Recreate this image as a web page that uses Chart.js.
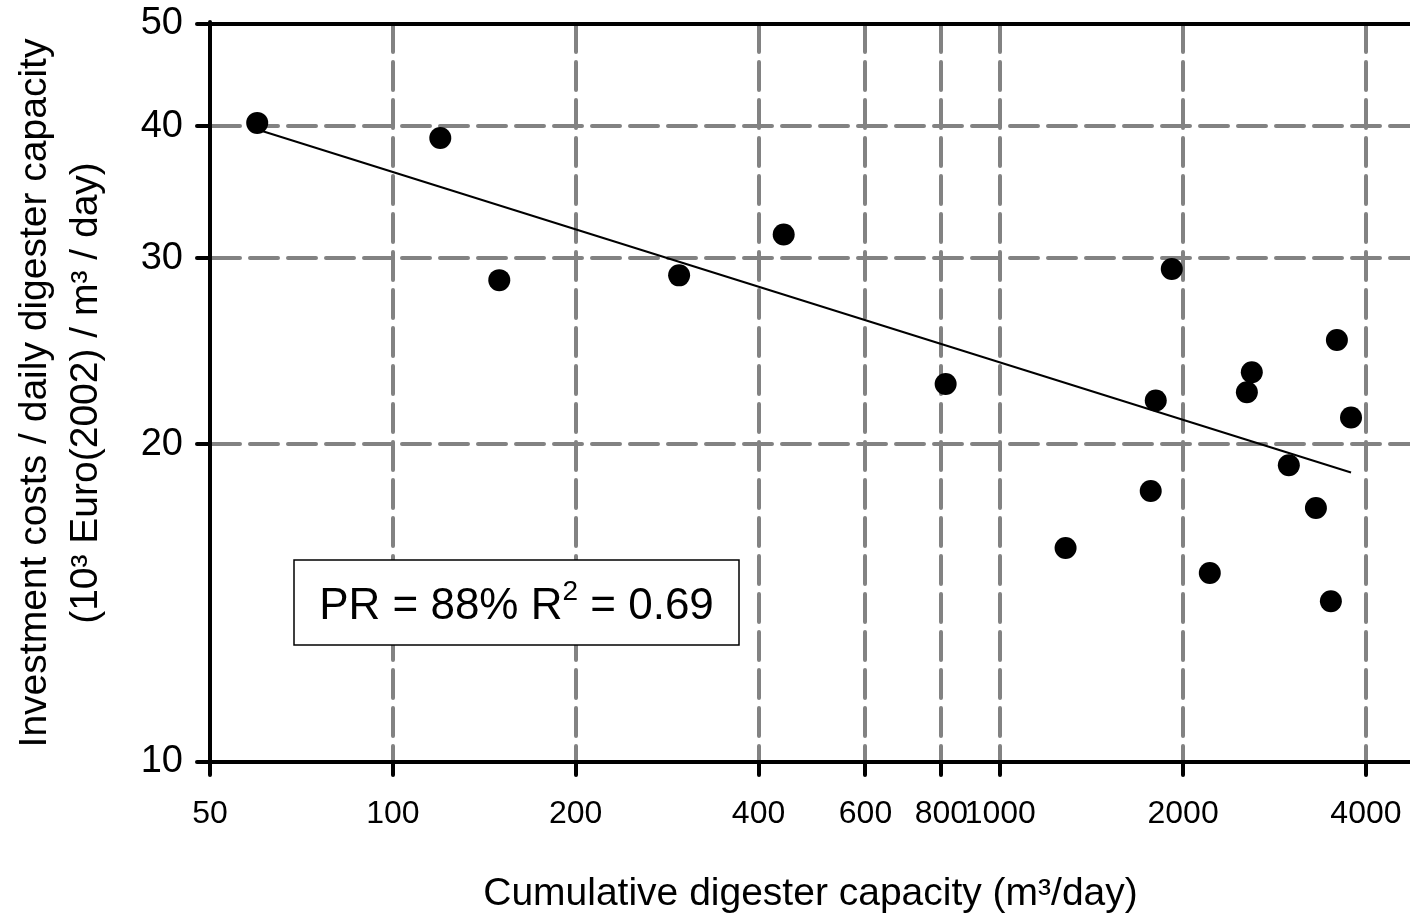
<!DOCTYPE html>
<html>
<head>
<meta charset="utf-8">
<script src="https://cdn.jsdelivr.net/npm/chart.js@4/dist/chart.umd.min.js"></script>
<style>
html,body{margin:0;padding:0;background:#fff;overflow:hidden;}
#wrap{width:1410px;height:920px;overflow:hidden;}
</style>
</head>
<body>
<div id="wrap"><canvas id="c" width="1422" height="920"></canvas></div>
<script>
// ---- data ----
const capacity = [59.8, 119.7, 149.7, 296, 440, 813, 1281, 1769, 1803, 1916, 2213, 2547, 2595, 2986, 3309, 3502, 3583, 3780];
const costs    = [40.3, 39.0, 28.6, 28.9, 31.6, 22.8, 15.95, 18.06, 22.0, 29.3, 15.1, 22.4, 23.4, 19.1, 17.4, 14.2, 25.1, 21.2];
const trendX   = [60.0, 3780];
const trendY   = [39.7, 18.8];
const xTicks   = [50, 100, 200, 400, 600, 800, 1000, 2000, 4000];
const yTicks   = [10, 20, 30, 40, 50];
const xTitle   = 'Cumulative digester capacity (m\u00B3/day)';
const yTitle   = ['Investment costs / daily digester capacity', '(10\u00B3 Euro(2002) / m\u00B3 / day)'];
const boxText  = ['PR = 88% R', '2', ' = 0.69'];

const FONT = "'Liberation Sans', Arial, sans-serif";
const GRID = '#828282';

const points = capacity.map((x, i) => ({x: x, y: costs[i]}));
const trend = trendX.map((x, i) => ({x: x, y: trendY[i]}));

const framePlugin = {
  id: 'frame',
  beforeDraw(chart) { chart.ctx.lineCap = 'round'; },
  afterDraw(chart) {
    const ctx = chart.ctx, a = chart.chartArea;
    ctx.save();
    // top border
    ctx.lineCap = 'butt';
    ctx.strokeStyle = '#000';
    ctx.lineWidth = 4;
    ctx.beginPath();
    ctx.moveTo(a.left - 13, a.top);
    ctx.lineTo(a.right, a.top);
    ctx.stroke();
    // annotation box
    const bx = a.left + 84, by = 560, bw = 445, bh = 85;
    ctx.fillStyle = '#fff';
    ctx.fillRect(bx, by, bw, bh);
    ctx.lineWidth = 1.5;
    ctx.strokeRect(bx, by, bw, bh);
    ctx.fillStyle = '#000';
    ctx.textBaseline = 'alphabetic';
    const big = "44px " + FONT, small = "28px " + FONT;
    ctx.font = big; const w1 = ctx.measureText(boxText[0]).width;
    ctx.font = small; const w2 = ctx.measureText(boxText[1]).width;
    ctx.font = big; const w3 = ctx.measureText(boxText[2]).width;
    let x = bx + (bw - (w1 + w2 + w3)) / 2;
    const base = by + bh / 2 + 16;
    ctx.font = big; ctx.fillText(boxText[0], x, base); x += w1;
    ctx.font = small; ctx.fillText(boxText[1], x, base - 19); x += w2;
    ctx.font = big; ctx.fillText(boxText[2], x, base);
    ctx.restore();
  }
};

new Chart(document.getElementById('c'), {
  type: 'scatter',
  data: {
    datasets: [
      {
        type: 'line',
        data: trend,
        borderColor: '#000',
        borderWidth: 2,
        pointRadius: 0,
        fill: false,
        order: 1
      },
      {
        data: points,
        backgroundColor: '#000',
        borderColor: '#000',
        borderWidth: 0,
        pointRadius: 11,
        order: 0
      }
    ]
  },
  options: {
    responsive: false,
    animation: false,
    devicePixelRatio: 1,
    layout: {padding: {left: 0, right: 0, top: 24, bottom: 0}},
    plugins: {legend: {display: false}, tooltip: {enabled: false}},
    scales: {
      x: {
        type: 'logarithmic',
        min: 50,
        max: 4745,
        afterBuildTicks(s) { s.ticks = xTicks.map(v => ({value: v})); },
        afterFit(s) { s.height = 158; s.paddingLeft = 0; s.paddingRight = 0; },
        border: {display: true, color: '#000', width: 4, dash: [28, 10]},
        grid: {
          color: c => (c.tick && c.tick.value === 50) ? 'rgba(0,0,0,0)' : GRID,
          lineWidth: 4,
          tickColor: '#000',
          tickWidth: 4,
          tickLength: 13,
          drawTicks: true
        },
        ticks: {
          autoSkip: false,
          maxRotation: 0,
          color: '#000',
          padding: 20,
          font: {family: FONT, size: 32},
          callback: v => String(v)
        },
        title: {
          display: true,
          text: xTitle,
          color: '#000',
          font: {family: FONT, size: 39, lineHeight: 1.2},
          padding: {top: 0, bottom: 2}
        }
      },
      y: {
        type: 'logarithmic',
        min: 10,
        max: 50,
        afterBuildTicks(s) { s.ticks = yTicks.map(v => ({value: v})); },
        afterFit(s) { s.width = 210; s.paddingTop = 0; s.paddingBottom = 0; },
        border: {display: true, color: '#000', width: 4, dash: [28, 10]},
        grid: {
          color: c => (c.tick && (c.tick.value === 50 || c.tick.value === 10)) ? 'rgba(0,0,0,0)' : GRID,
          lineWidth: 4,
          tickColor: '#000',
          tickWidth: 4,
          tickLength: 13,
          drawTicks: true
        },
        ticks: {
          color: '#000',
          padding: 14,
          font: {family: FONT, size: 38},
          callback: v => String(v)
        },
        title: {
          display: true,
          text: yTitle,
          color: '#000',
          font: {family: FONT, size: 39, lineHeight: 1.3},
          padding: {top: 10, bottom: 0}
        }
      }
    }
  },
  plugins: [framePlugin]
});
</script>
</body>
</html>
